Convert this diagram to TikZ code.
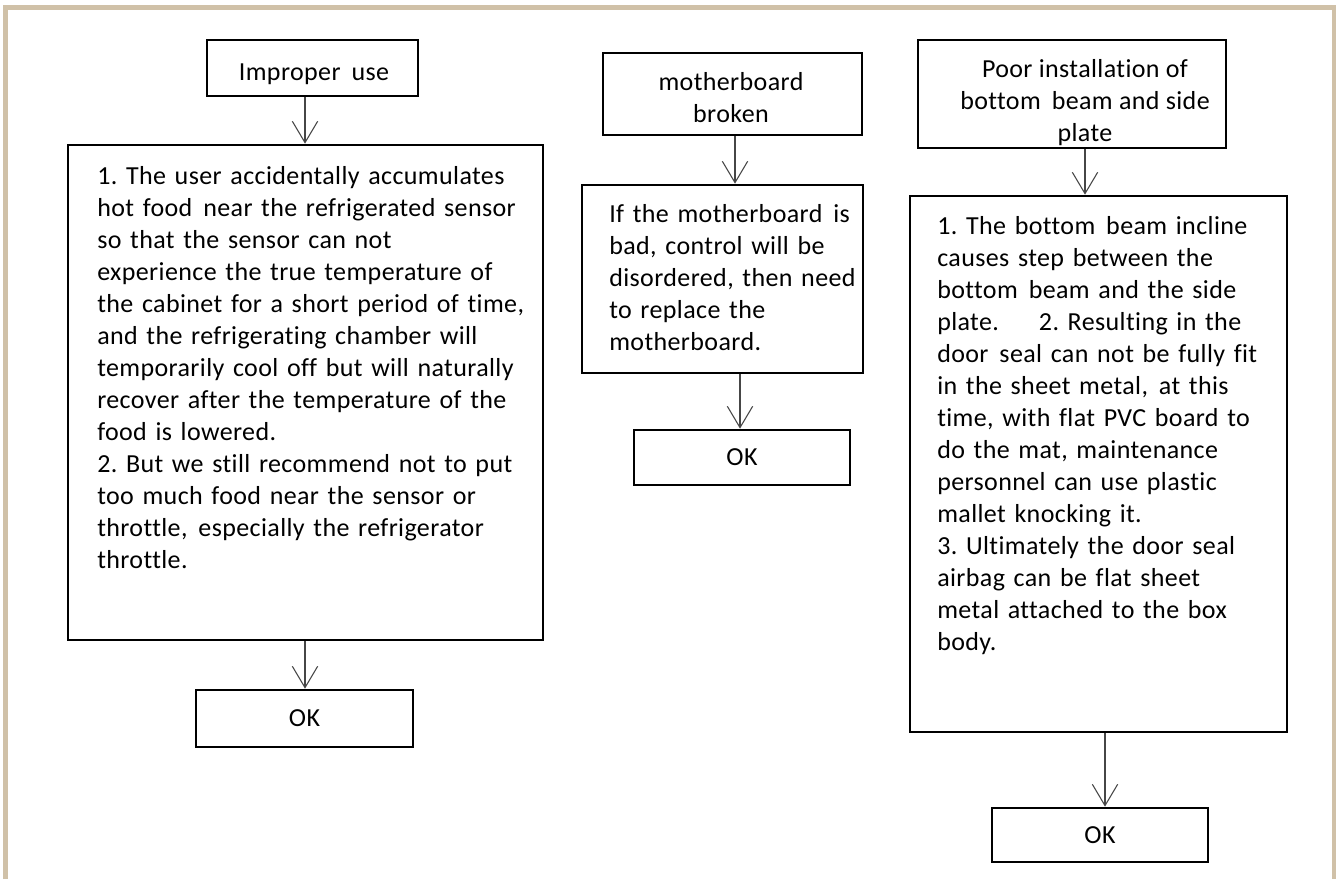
\documentclass[tikz,border=0pt]{standalone}
\usepackage{fontspec}
\setmainfont{Carlito}[LetterSpace=1.5,Ligatures=CommonOff]
\usetikzlibrary{arrows.meta}
\definecolor{framecol}{RGB}{208,193,168}
\definecolor{arrcol}{RGB}{70,70,70}
\newcommand{\bodyfont}{\fontsize{19.5}{24}\selectfont\frenchspacing}
\newcommand{\dsp}{\hspace{0.42em}}
\begin{document}
\begin{tikzpicture}[x=0.75pt,y=-0.75pt,
  box/.style={draw=black, line width=2pt, inner sep=0pt, fill=white},
  txt/.style={inner sep=0pt, anchor=north west, align=left, text width=400pt, font=\bodyfont, text=black},
  ctxt/.style={inner sep=0pt, anchor=north, align=center, font=\bodyfont, text=black},
  arr/.style={draw=arrcol, line width=0.8pt, -{Straight Barb[length=16pt,width=19pt,line width=0.8pt]}}]
\useasboundingbox (0,0) rectangle (1336,879);
\fill[white] (0,0) rectangle (1336,879);
\draw[framecol, line width=3.75pt] (5,879) -- (5,7) -- (1334,7) -- (1334,879);

% column 1
\node[box, minimum width=158.25pt, minimum height=42pt] (A) at (312.5,68) {};
\node[ctxt] (Atext) at (314,57.6) {\strut Improper\dsp use};
\node[box, minimum width=356.25pt, minimum height=371.25pt] (B) at (305.5,392.5) {};
\node[txt] (Btext) at (97,161.6) {\strut 1. The user accidentally accumulates\\
hot food\dsp near the refrigerated sensor\\
so that the sensor can not\\
experience the true temperature of\\
the cabinet for a short period of time,\\
and the refrigerating chamber will\\
temporarily cool off but will naturally\\
recover after the temperature of the\\
food is lowered.\\
2. But we still recommend not to put\\
too much food near the sensor or\\
throttle,\dsp especially the refrigerator\\
throttle.};
\node[box, minimum width=162.75pt, minimum height=42.75pt, font=\bodyfont] (OK1) at (304.5,718.5) {OK};
\coordinate (xa) at (305,0);
\draw[arr] (A.south -| xa) -- (B.north -| xa);
\draw[arr] (B.south -| xa) -- (OK1.north -| xa);

% column 2
\node[box, minimum width=194.25pt, minimum height=61.5pt] (C) at (732.5,94) {};
\node[ctxt] (Ctext) at (731,67.6) {\strut motherboard\\ broken};
\node[box, minimum width=210.75pt, minimum height=141pt] (D) at (722.5,279) {};
\node[txt] (Dtext) at (609,199.6) {\strut If the motherboard\dsp is\\
bad, control will be\\
disordered, then need\\
to replace the\\
motherboard.};
\node[box, minimum width=162pt, minimum height=41.25pt, font=\bodyfont] (OK2) at (742,457.5) {OK};
\coordinate (xc) at (735,0);
\coordinate (xd) at (740,0);
\draw[arr] (C.south -| xc) -- (D.north -| xc);
\draw[arr] (D.south -| xd) -- (OK2.north -| xd);

% column 3
\node[box, minimum width=231pt, minimum height=81pt] (E) at (1072,94) {};
\node[ctxt] (Etext) at (1085,54.6) {\strut Poor installation of\\ bottom\dsp beam and side\\ plate};
\node[box, minimum width=282.75pt, minimum height=402pt] (F) at (1098.5,464) {};
\node[txt] (Ftext) at (937,211.6) {\strut 1. The bottom\dsp beam incline\\
causes step between the\\
bottom\dsp beam and the side\\
plate.\hspace{30pt}2. Resulting in the\\
door\dsp seal can not be fully fit\\
in the sheet metal,\dsp at this\\
time, with flat PVC board to\\
do the mat, maintenance\\
personnel can use plastic\\
mallet knocking it.\\
3. Ultimately the door seal\\
airbag can be flat sheet\\
metal attached to the box\\
body.};
\node[box, minimum width=162pt, minimum height=40.5pt, font=\bodyfont] (OK3) at (1100,835) {OK};
\coordinate (xe) at (1085,0);
\coordinate (xf) at (1105,0);
\draw[arr] (E.south -| xe) -- (F.north -| xe);
\draw[arr] (F.south -| xf) -- (OK3.north -| xf);
\end{tikzpicture}
\end{document}
